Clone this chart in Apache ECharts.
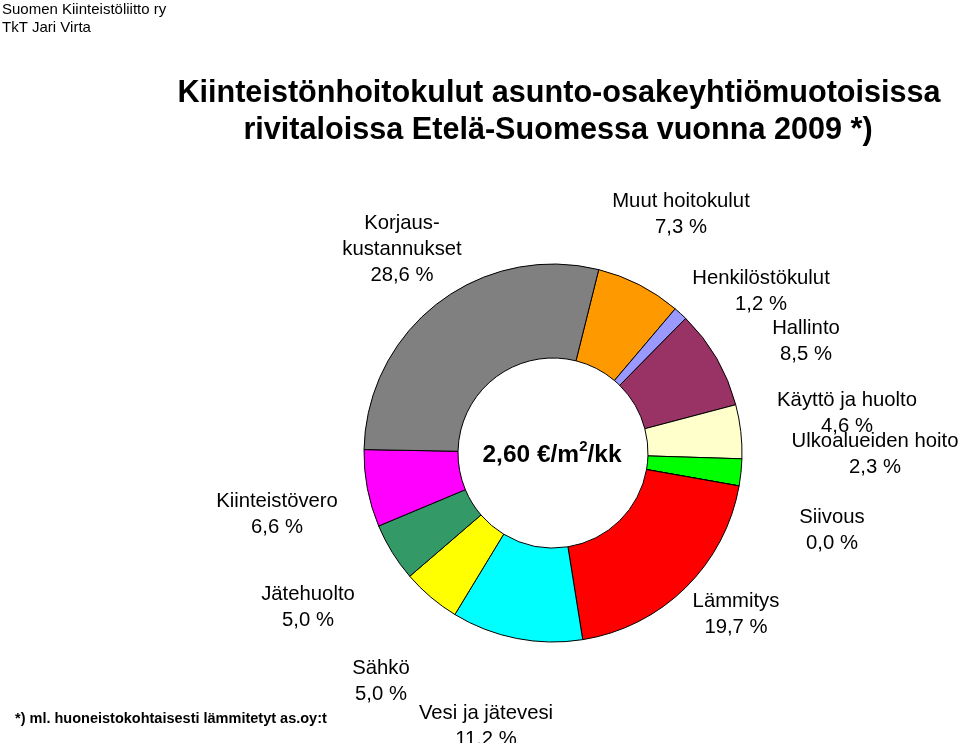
<!DOCTYPE html>
<html>
<head>
<meta charset="utf-8">
<script src="https://cdn.jsdelivr.net/npm/echarts@6/dist/echarts.min.js"></script>
<style>
html,body{margin:0;padding:0;background:#fff;}
#chart{width:959px;height:743px;}
</style>
</head>
<body>
<div id="chart"></div>
<script>
const categories = ['Muut hoitokulut', 'Henkilöstökulut', 'Hallinto', 'Käyttö ja huolto', 'Ulkoalueiden hoito', 'Siivous', 'Lämmitys', 'Vesi ja jätevesi', 'Sähkö', 'Jätehuolto', 'Kiinteistövero', 'Korjaus-\nkustannukset'];
const values = [7.3, 1.2, 8.5, 4.6, 2.3, 0.0, 19.7, 11.2, 5.0, 5.0, 6.6, 28.6];
const titleLines = ['Kiinteistönhoitokulut asunto-osakeyhtiömuotoisissa', 'rivitaloissa Etelä-Suomessa vuonna 2009 *)'];
const sourceLines = ['Suomen Kiinteistöliitto ry', 'TkT Jari Virta'];
const footnote = '*) ml. huoneistokohtaisesti lämmitetyt as.oy:t';
const centerValue = '2,60';

// styling / layout (not data)
const colors = ['#FF9900', '#9999FF', '#993366', '#FFFFCC', '#00FF00', '#FFFFFF', '#FF0000', '#00FFFF', '#FFFF00', '#339966', '#FF00FF', '#808080'];
const labelPos = [[681, 214], [761, 291], [806, 341], [847, 413], [875, 454], [832, 530], [736, 614], [486, 726], [381, 681], [308, 607], [277, 514], [402, 249]];

const fmt = v => v.toFixed(1).replace('.', ',') + ' %';
const FONT = '"Liberation Sans", Arial, Helvetica, sans-serif';

const chart = echarts.init(document.getElementById('chart'), null, {renderer: 'canvas'});
chart.setOption({
  backgroundColor: '#ffffff',
  animation: false,
  textStyle: {fontFamily: FONT},
  graphic: [
    {type: 'text', left: 2, top: 1, style: {text: sourceLines.join('\n'), font: '15px ' + FONT, lineHeight: 18, fill: '#000'}},
    {type: 'text', x: 559, y: 94, style: {text: titleLines[0], font: 'bold 30.6px ' + FONT, fill: '#000', align: 'center', verticalAlign: 'middle'}},
    {type: 'text', x: 558, y: 131, style: {text: titleLines[1], font: 'bold 30.6px ' + FONT, fill: '#000', align: 'center', verticalAlign: 'middle'}},
    {type: 'text', x: 15, y: 719, style: {text: footnote, font: 'bold 14.5px ' + FONT, fill: '#000', align: 'left', verticalAlign: 'middle'}},
    {type: 'text', x: 552, y: 455, style: {
      text: '{a|' + centerValue + ' €/m}{s|2}{a|/kk}',
      align: 'center', verticalAlign: 'middle', fill: '#000',
      rich: {
        a: {fontSize: 24.5, fontWeight: 'bold', fontFamily: FONT, fill: '#000', lineHeight: 32},
        s: {fontSize: 15, fontWeight: 'bold', fontFamily: FONT, fill: '#000', verticalAlign: 'top', lineHeight: 32, padding: [0, 0, 15, 0]}
      }
    }}
  ],
  series: [{
    type: 'pie',
    center: [553, 453],
    radius: [95, 189],
    startAngle: 76,
    clockwise: true,
    avoidLabelOverlap: false,
    minShowLabelAngle: 0,
    silent: true,
    itemStyle: {borderColor: '#000', borderWidth: 1},
    label: {
      show: true,
      formatter: p => p.name + '\n' + fmt(p.value),
      fontSize: 20.3,
      fontFamily: FONT,
      color: '#000',
      lineHeight: 26,
      align: 'center'
    },
    labelLine: {show: false},
    labelLayout: function (params) {
      const p = labelPos[params.dataIndex];
      return {x: p[0], y: p[1], align: 'center', verticalAlign: 'middle'};
    },
    data: categories.map((c, i) => ({name: c, value: values[i], itemStyle: {color: colors[i]}}))
  }]
});
</script>
</body>
</html>
